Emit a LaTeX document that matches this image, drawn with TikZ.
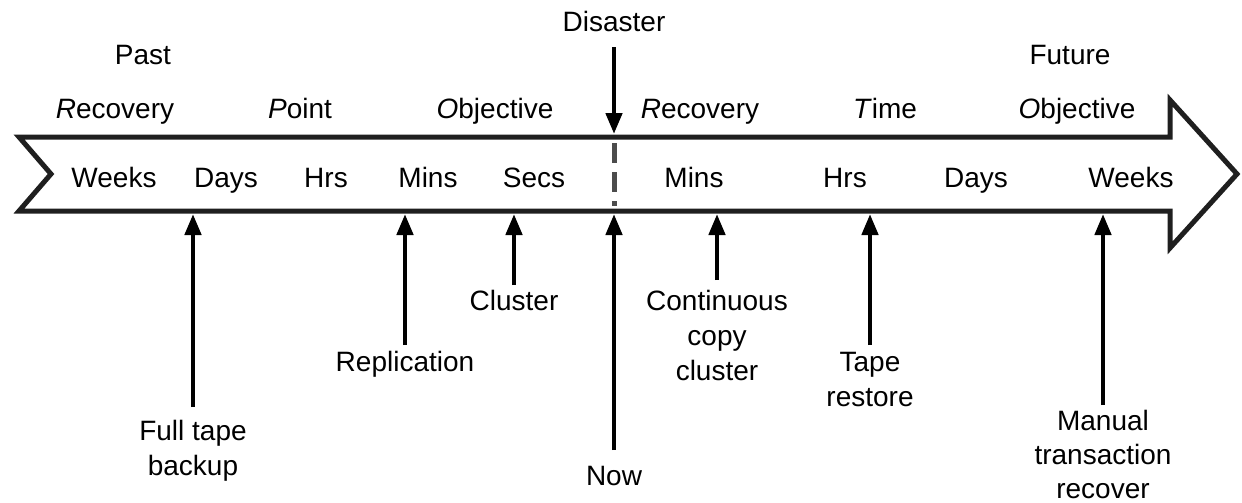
\documentclass[tikz,border=0pt]{standalone}
\usepackage{fontspec}
\setmainfont{Liberation Sans}
\usetikzlibrary{arrows.meta}
\begin{document}
\begin{tikzpicture}[x=1pt,y=-1pt,
  txt/.style={inner sep=0pt, font=\fontsize{28}{35}\selectfont, align=center},
  lbl/.style={txt, anchor=base},
  low/.style={txt, anchor=north},
  arr/.style={line width=4.5pt, black, -{Triangle[length=21pt,width=16pt]}},
  outline/.style={line width=5pt, draw=black!88, line join=miter},
  nowline/.style={line width=5pt, draw=black!70, dash pattern=on 20pt off 9pt}]
\useasboundingbox (0,0) rectangle (1242,503);
% big arrow outline
\draw[outline] (19,137) -- (51,174) -- (19,211) -- (1170,211) -- (1170,248)
  -- (1237,174) -- (1170,100) -- (1170,137) -- cycle;
% dashed "now" line
\coordinate (dashTop) at (614,143);
\coordinate (dashBot) at (614,206);
\draw[nowline] (dashTop) -- (dashBot);
% top texts
\node[lbl] (disaster) at (614,32) {Disaster};
\node[lbl] (past) at (143,65) {Past};
\node[lbl] (future) at (1070,65) {Future};
\node[lbl] (rpoR) at (115,118) {\textit{R}ecovery};
\node[lbl] (rpoP) at (300,118) {\textit{P}oint};
\node[lbl] (rpoO) at (495,118) {\textit{O}bjective};
\node[lbl] (rtoR) at (700,118) {\textit{R}ecovery};
\node[lbl] (rtoT) at (885,118) {\textit{T}ime};
\node[lbl] (rtoO) at (1077,118) {\textit{O}bjective};
% timeline texts
\node[lbl] (w1) at (114,187) {Weeks};
\node[lbl] (d1) at (226,187) {Days};
\node[lbl] (h1) at (326,187) {Hrs};
\node[lbl] (m1) at (428,187) {Mins};
\node[lbl] (s1) at (534,187) {Secs};
\node[lbl] (m2) at (694,187) {Mins};
\node[lbl] (h2) at (845,187) {Hrs};
\node[lbl] (d2) at (976,187) {Days};
\node[lbl] (w2) at (1131,187) {Weeks};
% tips on the bar
\coordinate (disTip) at (614,134);
\coordinate (tFull) at (193,214);
\coordinate (tRepl) at (405,214);
\coordinate (tClus) at (514,214);
\coordinate (tNow) at (614,214);
\coordinate (tCont) at (717,214);
\coordinate (tTape) at (870,214);
\coordinate (tMan) at (1103,214);
% lower labels
\node[low] (full) at (193,420) {Full tape\\backup};
\node[low] (repl) at (405,351) {Replication};
\node[low] (clus) at (514,290) {Cluster};
\node[low] (now) at (614,466) {Now};
\node[low] (cont) at (717,290) {Continuous\\copy\\cluster};
\node[low] (tape) at (870,352) {Tape\\restore};
\node[low, font=\fontsize{28}{34}\selectfont] (man) at (1103,410) {Manual\\transaction\\recover};
% arrows
\draw[arr, shorten <=15pt] (disaster.south) -- (disTip);
\draw[arr, shorten <=13pt] (full.north) -- (tFull);
\draw[arr, shorten <=6pt] (repl.north) -- (tRepl);
\draw[arr, shorten <=5pt] (clus.north) -- (tClus);
\draw[arr, shorten <=16pt] (now.north) -- (tNow);
\draw[arr, shorten <=10pt] (cont.north) -- (tCont);
\draw[arr, shorten <=7pt] (tape.north) -- (tTape);
\draw[arr, shorten <=5pt] (man.north) -- (tMan);
\end{tikzpicture}
\end{document}
